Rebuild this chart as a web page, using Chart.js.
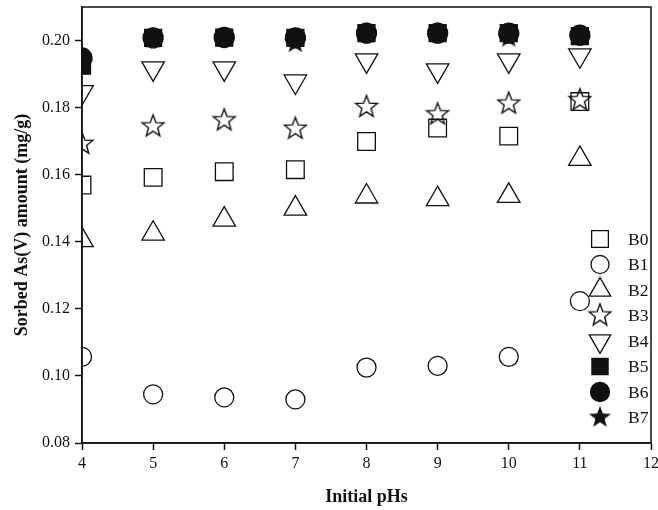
<!DOCTYPE html>
<html>
<head>
<meta charset="utf-8">
<script src="https://cdn.jsdelivr.net/npm/chart.js@4.4.1/dist/chart.umd.min.js"></script>
<style>
  html, body { margin: 0; padding: 0; background: #fff; }
</style>
</head>
<body>
<canvas id="chart" width="658" height="510"></canvas>
<script>
// initial pH values (x)
const phValues = [4, 5, 6, 7, 8, 9, 10, 11];

// sorbed As(V) amount (mg/g) per sample
const b0 = [0.1569, 0.1592, 0.1609, 0.1615, 0.1699, 0.1739, 0.1715, 0.1818];
const b1 = [0.1057, 0.0945, 0.0936, 0.0930, 0.1025, 0.1030, 0.1057, 0.1223];
const b2 = [0.1405, 0.1424, 0.1466, 0.1499, 0.1535, 0.1527, 0.1537, 0.1647];
const b3 = [0.1692, 0.1744, 0.1762, 0.1737, 0.1802, 0.1780, 0.1812, 0.1822];
const b4 = [0.1846, 0.1917, 0.1917, 0.1878, 0.1941, 0.1911, 0.1941, 0.1956];
const b5 = [0.1925, 0.2008, 0.2009, 0.2008, 0.2022, 0.2022, 0.2022, 0.2013];
const b6 = [0.1948, 0.2008, 0.2009, 0.2008, 0.2022, 0.2022, 0.2022, 0.2016];
const b7 = [0.1930, 0.2006, 0.2008, 0.1993, 0.2022, 0.2022, 0.2009, 0.2015];

const seriesNames = ["B0", "B1", "B2", "B3", "B4", "B5", "B6", "B7"];
const xTickValues = [4, 5, 6, 7, 8, 9, 10, 11, 12];
const yTickValues = [0.08, 0.10, 0.12, 0.14, 0.16, 0.18, 0.20];

const ink = "#111111";
const serif = "'Liberation Serif', 'Times New Roman', serif";

// five point star used as a point style (Chart.js "star" is an asterisk)
function makeStar(filled) {
  const c = document.createElement("canvas");
  c.width = 28;
  c.height = 28;
  const g = c.getContext("2d");
  const R = 11.5, r = R * 0.42;
  g.beginPath();
  for (let i = 0; i < 10; i++) {
    const a = -Math.PI / 2 + i * Math.PI / 5;
    const rad = i % 2 === 0 ? R : r;
    const px = 14 + Math.cos(a) * rad;
    const py = 14 + Math.sin(a) * rad;
    if (i === 0) g.moveTo(px, py); else g.lineTo(px, py);
  }
  g.closePath();
  if (filled) {
    g.fillStyle = ink;
    g.fill();
  } else {
    g.lineWidth = 1.4;
    g.strokeStyle = ink;
    g.stroke();
  }
  return c;
}
const starOpen = makeStar(false);
const starFilled = makeStar(true);

const styles = [
  { pointStyle: "rect", radius: 12.5, rotation: 0, fill: false },
  { pointStyle: "circle", radius: 9.5, rotation: 0, fill: false },
  { pointStyle: "triangle", radius: 13, rotation: 0, fill: false },
  { pointStyle: starOpen, radius: 11, rotation: 0, fill: false },
  { pointStyle: "triangle", radius: 13, rotation: 180, fill: false },
  { pointStyle: "rect", radius: 12, rotation: 0, fill: true },
  { pointStyle: "circle", radius: 10, rotation: 0, fill: true },
  { pointStyle: starFilled, radius: 11, rotation: 0, fill: true }
];

const allSeries = [b0, b1, b2, b3, b4, b5, b6, b7];

const datasets = allSeries.map((vals, i) => ({
  label: seriesNames[i],
  data: vals.map((v, j) => ({ x: phValues[j], y: v })),
  pointStyle: styles[i].pointStyle,
  pointRadius: styles[i].radius,
  pointHoverRadius: styles[i].radius,
  pointRotation: styles[i].rotation,
  pointBorderWidth: 1.3,
  pointBorderColor: ink,
  pointBackgroundColor: styles[i].fill ? ink : "rgba(0,0,0,0)",
  showLine: false,
  clip: 0
}));

// legend drawn inside the plot area, right side
const innerLegend = {
  id: "innerLegend",
  afterDraw(chart) {
    const { ctx, chartArea } = chart;
    const mx = chartArea.right - 51;
    const tx = chartArea.right - 23;
    ctx.save();
    chart.data.datasets.forEach((ds, i) => {
      const y = chartArea.top + 232 + i * 25.5;
      ctx.fillStyle = ds.pointBackgroundColor;
      ctx.strokeStyle = ink;
      ctx.lineWidth = 1.3;
      Chart.helpers.drawPoint(ctx, {
        pointStyle: ds.pointStyle,
        radius: ds.pointRadius * 0.95,
        rotation: ds.pointRotation,
        borderWidth: 1.3
      }, mx, y);
      ctx.fillStyle = ink;
      ctx.font = "17.5px " + serif;
      ctx.textAlign = "left";
      ctx.textBaseline = "middle";
      ctx.fillText(ds.label, tx, y + 1);
    });
    ctx.restore();
  }
};

// box around the plot area
const frame = {
  id: "frame",
  afterDraw(chart) {
    const { ctx, chartArea } = chart;
    ctx.save();
    ctx.strokeStyle = ink;
    ctx.lineWidth = 1.5;
    ctx.strokeRect(chartArea.left, chartArea.top,
      chartArea.right - chartArea.left, chartArea.bottom - chartArea.top);
    ctx.restore();
  }
};

new Chart(document.getElementById("chart").getContext("2d"), {
  type: "scatter",
  data: { datasets: datasets },
  plugins: [innerLegend, frame],
  options: {
    responsive: false,
    animation: false,
    layout: { autoPadding: false, padding: { top: 7, right: 7, left: 0, bottom: 0 } },
    plugins: {
      legend: { display: false },
      tooltip: { enabled: false }
    },
    scales: {
      x: {
        type: "linear",
        min: 4,
        max: 12,
        afterBuildTicks: (s) => { s.ticks = xTickValues.map((v) => ({ value: v })); },
        afterFit: (s) => { s.height = 67; s.paddingLeft = 0; s.paddingRight = 0; },
        grid: { drawOnChartArea: false, drawTicks: true, tickLength: 7, color: ink, tickWidth: 1.5 },
        border: { display: true, color: ink, width: 1.5 },
        ticks: {
          color: ink,
          padding: 4,
          maxRotation: 0,
          font: { family: serif, size: 16 }
        },
        title: {
          display: true,
          text: "Initial pHs",
          color: ink,
          padding: { top: 0, bottom: 2 },
          font: { family: serif, size: 18, weight: "bold" }
        }
      },
      y: {
        type: "linear",
        min: 0.08,
        max: 0.21,
        afterBuildTicks: (s) => { s.ticks = yTickValues.map((v) => ({ value: v })); },
        afterFit: (s) => { s.width = 82; s.paddingTop = 0; s.paddingBottom = 0; },
        grid: { drawOnChartArea: false, drawTicks: true, tickLength: 7, color: ink, tickWidth: 1.5 },
        border: { display: true, color: ink, width: 1.5 },
        ticks: {
          color: ink,
          padding: 5,
          font: { family: serif, size: 16 },
          callback: (v) => Number(v).toFixed(2)
        },
        title: {
          display: true,
          text: "Sorbed As(V) amount (mg/g)",
          color: ink,
          padding: { top: 12, bottom: 0 },
          font: { family: serif, size: 18, weight: "bold" }
        }
      }
    }
  }
});
</script>
</body>
</html>
